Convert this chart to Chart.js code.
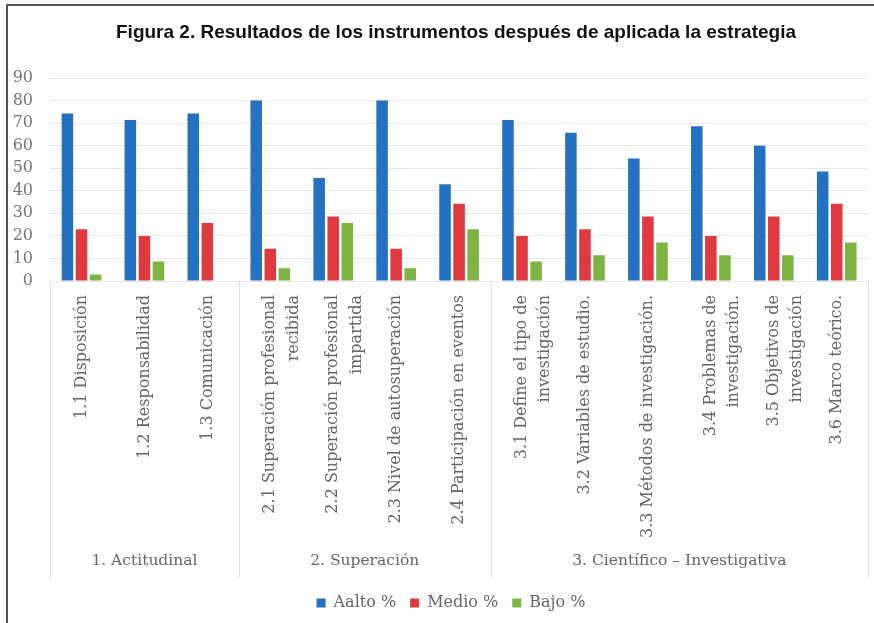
<!DOCTYPE html>
<html>
<head>
<meta charset="utf-8">
<script src="https://cdn.jsdelivr.net/npm/chart.js@4/dist/chart.umd.min.js"></script>
<style>
  html, body { margin: 0; padding: 0; background: #fff; }
  #wrap { position: relative; width: 874px; height: 623px; }
</style>
</head>
<body>
<div id="wrap"><canvas id="c"></canvas></div>
<script>
const titleText = 'Figura 2. Resultados de los instrumentos después de aplicada la estrategia';
const categories = [
  '1.1 Disposición',
  '1.2 Responsabilidad',
  '1.3 Comunicación',
  ['2.1 Superación profesional', 'recibida'],
  ['2.2 Superación profesional', 'impartida'],
  '2.3 Nivel de autosuperación',
  '2.4 Participación en eventos',
  ['3.1 Define el tipo de', 'investigación'],
  '3.2 Variables de estudio.',
  '3.3 Métodos de investigación.',
  ['3.4 Problemas de', 'investigación.'],
  ['3.5 Objetivos de', 'investigación'],
  '3.6 Marco teórico.'
];
const groups = ['1. Actitudinal', '2. Superación', '3. Científico – Investigativa'];
const groupSizes = [3, 4, 6];
const seriesNames = ['Aalto %', 'Medio %', 'Bajo %'];
const aalto = [74.3, 71.4, 74.3, 80.0, 45.7, 80.0, 42.9, 71.4, 65.7, 54.3, 68.6, 60.0, 48.6];
const medio = [22.9, 20.0, 25.7, 14.3, 28.6, 14.3, 34.3, 20.0, 22.9, 28.6, 20.0, 28.6, 34.3];
const bajo  = [2.9, 8.6, 0, 5.7, 25.7, 5.7, 22.9, 8.6, 11.4, 17.1, 11.4, 11.4, 17.1];
const yTicks = [0, 10, 20, 30, 40, 50, 60, 70, 80, 90];

const SERIF = '"DejaVu Serif", serif';

const decor = {
  id: 'decor',
  beforeDraw(chart) {
    const ctx = chart.ctx;
    ctx.save();
    ctx.fillStyle = '#ffffff';
    ctx.fillRect(0, 0, chart.width, chart.height);
    ctx.strokeStyle = '#555';
    ctx.lineWidth = 2;
    ctx.beginPath();
    ctx.moveTo(7, chart.height);
    ctx.lineTo(7, 5);
    ctx.lineTo(chart.width, 5);
    ctx.stroke();
    ctx.restore();
  },
  afterLayout(chart) {
    const lg = chart.legend;
    if (lg) {
      const dx = 451 - (lg.left + lg.right) / 2;
      lg.left += dx; lg.right += dx;
      const dy = 601 - (lg.top + lg.height / 2);
      lg.top += dy; lg.bottom += dy;
    }
  },
  afterDraw(chart) {
    const ctx = chart.ctx;
    const xs = chart.scales.x;
    const ca = chart.chartArea;
    ctx.save();
    // title
    ctx.fillStyle = '#111';
    ctx.font = 'bold 19px "Liberation Sans", Arial, sans-serif';
    ctx.textAlign = 'center';
    ctx.textBaseline = 'middle';
    ctx.fillText(titleText, 456, 33);
    // group separators and labels
    ctx.strokeStyle = '#e3e3e3';
    ctx.lineWidth = 1;
    let start = 0;
    const bounds = [];
    groupSizes.forEach((n, gi) => {
      const first = start, last = start + n - 1;
      const leftB = first === 0 ? xs.left : (xs.getPixelForValue(first - 1) + xs.getPixelForValue(first)) / 2;
      const rightB = last === categories.length - 1 ? xs.right : (xs.getPixelForValue(last) + xs.getPixelForValue(last + 1)) / 2;
      bounds.push(leftB);
      if (gi === groupSizes.length - 1) bounds.push(rightB);
      ctx.fillStyle = '#666';
      ctx.font = '15.5px ' + SERIF;
      ctx.textAlign = 'center';
      ctx.textBaseline = 'middle';
      ctx.fillText(groups[gi], (xs.getPixelForValue(first) + xs.getPixelForValue(last)) / 2, 561);
      start += n;
    });
    bounds.forEach(b => {
      ctx.beginPath();
      ctx.moveTo(Math.round(b) + 0.5, ca.bottom);
      ctx.lineTo(Math.round(b) + 0.5, 578);
      ctx.stroke();
    });
    ctx.restore();
  }
};

new Chart(document.getElementById('c'), {
  type: 'bar',
  data: {
    labels: categories,
    datasets: [
      { label: seriesNames[0], data: aalto, backgroundColor: '#2471c1' },
      { label: seriesNames[1], data: medio, backgroundColor: '#e03a40' },
      { label: seriesNames[2], data: bajo,  backgroundColor: '#7db443' }
    ]
  },
  options: {
    responsive: true,
    maintainAspectRatio: false,
    animation: false,
    layout: { padding: { top: 78, right: 2, bottom: 0, left: 0 } },
    datasets: { bar: { categoryPercentage: 0.67, barPercentage: 0.82 } },
    plugins: {
      title: { display: false },
      tooltip: { enabled: false },
      legend: {
        display: true,
        position: 'bottom',
        labels: {
          boxWidth: 9, boxHeight: 9, padding: 14,
          color: '#666',
          font: { family: SERIF, size: 16 }
        }
      }
    },
    scales: {
      x: {
        grid: { display: false, drawTicks: false },
        border: { display: false },
        ticks: {
          minRotation: 90, maxRotation: 90, autoSkip: false,
          padding: 14,
          color: '#666',
          font: { family: SERIF, size: 16, lineHeight: 1.45 }
        },
        afterFit(scale) {
          const lh = scale.chart.legend ? scale.chart.legend.height : 0;
          scale.height = scale.chart.height - 281 - lh;
        }
      },
      y: {
        min: 0, max: 90,
        afterBuildTicks(scale) { scale.ticks = yTicks.map(v => ({ value: v })); },
        grid: { color: '#e6e6e6', drawTicks: false },
        border: { display: false },
        ticks: {
          padding: 17,
          color: '#777',
          font: { family: SERIF, size: 16 }
        },
        afterFit(scale) { scale.width = 50; }
      }
    }
  },
  plugins: [decor]
});
</script>
</body>
</html>
